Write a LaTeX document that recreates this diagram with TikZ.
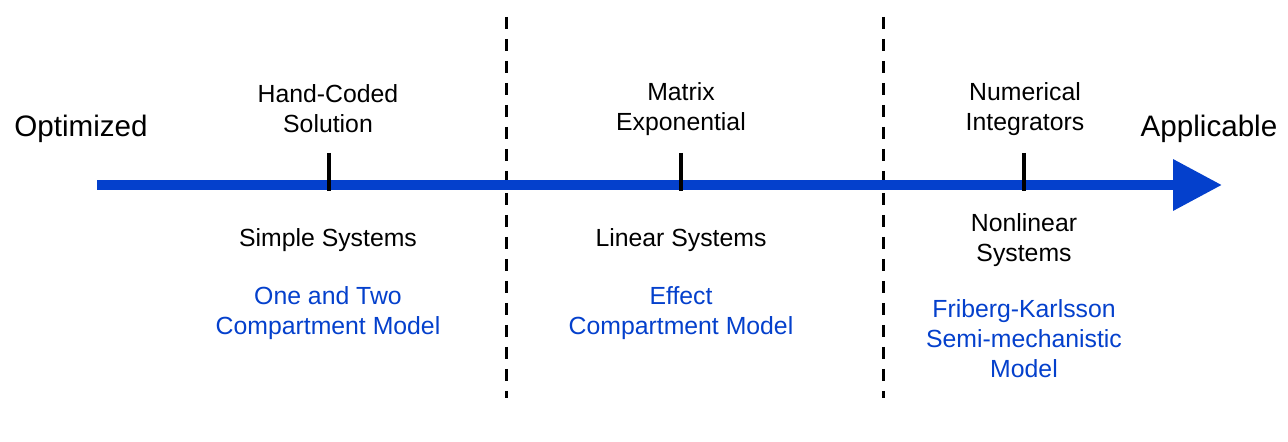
\documentclass[tikz,border=0pt]{standalone}
\usepackage{fontspec}
\setmainfont{Liberation Sans}
\usepackage{xcolor}
\usetikzlibrary{positioning,arrows.meta}

\definecolor{axisblue}{RGB}{4,64,204}

\begin{document}
\begin{tikzpicture}[
    x=0.5pt, y=-0.5pt,
    txt/.style={
        align=center,
        inner sep=0pt,
        font=\fontsize{12.4}{15}\selectfont
    },
    model/.style={txt, text=axisblue},
    endlabel/.style={inner sep=0pt, font=\fontsize{14.8}{18}\selectfont},
    axis/.style={-{Triangle[length=24.5pt,width=24.5pt]}, line width=5pt, draw=axisblue, color=axisblue},
    tickmark/.style={line width=2.2pt},
    divider/.style={line width=1.5pt, dash pattern=on 6pt off 5pt}
]

\useasboundingbox (0,0) rectangle (1288,442);

% axis ends
\coordinate (start) at (97,185);
\coordinate (stop) at (1222,185);

% dividers
\draw[divider] (506,17) -- (506,398);
\draw[divider] (883,17) -- (883,398);

\draw[axis] (start) -- (stop);

% tick positions
\coordinate (simple) at (329,185);
\coordinate (linear) at (681,185);
\coordinate (nonlin) at (1024,185);

\foreach \p in {simple,linear,nonlin}
    \draw[tickmark] (\p) ++(0,-32) -- ++(0,38);

\node[endlabel] (optim) at (81,129) {Optimized};
\node[endlabel] (applic) at (1209,129) {Applicable};

% methods
\node[txt] (handcoded) at (328,109) {Hand-Coded\\Solution};
\node[txt] (matexp) at (681,109) {Matrix\\Exponential};
\node[txt] (numint) at (1025,109) {Numerical\\Integrators};

% systems
\node[txt] (simplesys) at (328,240) {Simple Systems};
\node[txt] (linearsys) at (681,240) {Linear Systems};
\node[txt] (nonlinsys) at (1024,240) {Nonlinear\\Systems};

% models
\node[model] (twocomp) at (328,313) {One and Two\\Compartment Model};
\node[model] (effect) at (681,313) {Effect\\Compartment Model};
\node[model] (friberg) at (1024,339) {Friberg-Karlsson\\Semi-mechanistic\\Model};

\end{tikzpicture}
\end{document}
